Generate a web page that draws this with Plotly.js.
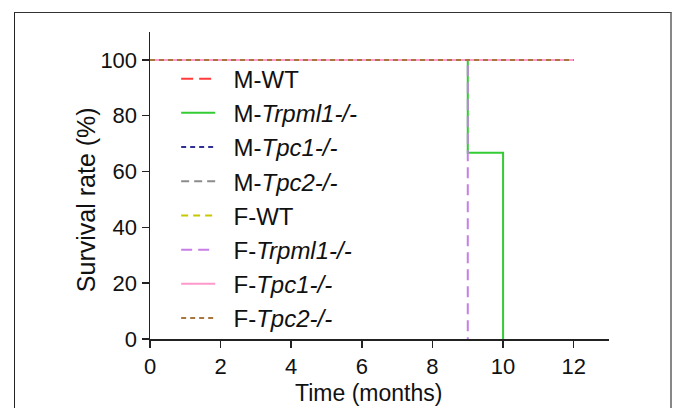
<!DOCTYPE html>
<html>
<head>
<meta charset="utf-8">
<script src="https://cdn.plot.ly/plotly-3.0.1.min.js"></script>
<style>
html,body{margin:0;padding:0;background:#fff;}
#wrap{position:relative;width:673px;height:408px;}
#chart{width:673px;height:408px;}
#frame{position:absolute;left:14px;top:12px;width:655px;height:420px;border-left:1.5px solid #222;border-top:1.5px solid #333;border-right:2px solid #888;pointer-events:none;}
</style>
</head>
<body>
<div id="wrap"><div id="chart"></div><div id="frame"></div></div>
<script>
// Series names (legend labels)
const seriesNames = [
  "M-WT",
  "M-<i>Trpml1-/-</i>",
  "M-<i>Tpc1-/-</i>",
  "M-<i>Tpc2-/-</i>",
  "F-WT",
  "F-<i>Trpml1-/-</i>",
  "F-<i>Tpc1-/-</i>",
  "F-<i>Tpc2-/-</i>"
];
// Time points (months) for each survival curve
const mWT_t      = [0, 12];
const mTrpml1_t  = [0, 9, 10];
const mTpc1_t    = [0, 12];
const mTpc2_t    = [0, 12];
const fWT_t      = [0, 12];
const fTrpml1_t  = [0, 9];
const fTpc1_t    = [0, 12];
const fTpc2_t    = [0, 12];
// Survival rate (%) for each curve
const mWT_s      = [100, 100];
const mTrpml1_s  = [100, 66.7, 0];
const mTpc1_s    = [100, 100];
const mTpc2_s    = [100, 100];
const fWT_s      = [100, 100];
const fTrpml1_s  = [100, 0];
const fTpc1_s    = [100, 100];
const fTpc2_s    = [100, 100];

const xTicks = [0, 2, 4, 6, 8, 10, 12];
const yTicks = [0, 20, 40, 60, 80, 100];
const xTitle = "Time (months)";
const yTitle = "Survival rate (%)";

const times = [mWT_t, mTrpml1_t, mTpc1_t, mTpc2_t, fWT_t, fTrpml1_t, fTpc1_t, fTpc2_t];
const surv  = [mWT_s, mTrpml1_s, mTpc1_s, mTpc2_s, fWT_s, fTrpml1_s, fTpc1_s, fTpc2_s];
const styles = [
  {color:"#ff3b3b", dash:"12px,6px,12px,6px,4px,6px"},
  {color:"#33cc33", dash:"solid"},
  {color:"#2e3192", dash:"5px,4px"},
  {color:"#8c8c8c", dash:"8px,5px"},
  {color:"#c8c800", dash:"7px,5px"},
  {color:"#c77ee6", dash:"11px,6px"},
  {color:"#ff99cc", dash:"solid"},
  {color:"#a8763e", dash:"5px,4px"}
];

const pad = "\u00A0\u00A0";
const traces = times.map((t, i) => ({
  type: "scatter",
  mode: "lines",
  x: t,
  y: surv[i],
  name: pad + seriesNames[i],
  legendgroup: "g" + i,
  line: {shape: "hv", width: 2, color: styles[i].color, dash: styles[i].dash}
}));

const font = {family: "Liberation Sans, Arial, sans-serif", color: "#111"};

const layout = {
  width: 673, height: 408,
  margin: {l: 150, r: 64, t: 32, b: 69},
  paper_bgcolor: "#fff", plot_bgcolor: "#fff",
  showlegend: true,
  legend: {
    x: 0.057, y: 0.92, xanchor: "left", yanchor: "top",
    bgcolor: "rgba(0,0,0,0)",
    font: Object.assign({}, font, {size: 24}),
    tracegroupgap: 0,
    traceorder: "normal",
    itemwidth: 34
  },
  xaxis: {
    range: [0, 13], tickvals: xTicks, ticktext: xTicks.map(String),
    showgrid: false, zeroline: false, showline: true, linecolor: "#222", linewidth: 1.5,
    ticks: "outside", ticklen: 7, tickwidth: 1.5, tickcolor: "#222",
    tickfont: Object.assign({}, font, {size: 22})
  },
  yaxis: {
    range: [0, 110], tickvals: yTicks, ticktext: yTicks.map(String),
    showgrid: false, zeroline: false, showline: true, linecolor: "#222", linewidth: 1.5,
    ticks: "outside", ticklen: 7, tickwidth: 1.5, tickcolor: "#222",
    tickfont: Object.assign({}, font, {size: 22})
  },
  annotations: [
    {text: xTitle, xref: "paper", yref: "paper", x: 0.477, y: -0.176,
     xanchor: "center", yanchor: "middle", showarrow: false, borderpad: 0,
     font: Object.assign({}, font, {size: 23})},
    {text: yTitle, xref: "paper", yref: "paper", x: -0.1405, y: 0.454,
     xanchor: "center", yanchor: "middle", showarrow: false, textangle: -90,
     font: Object.assign({}, font, {size: 25})}
  ]
};

Plotly.newPlot("chart", traces, layout, {displayModeBar: false, staticPlot: true});
</script>
</body>
</html>
